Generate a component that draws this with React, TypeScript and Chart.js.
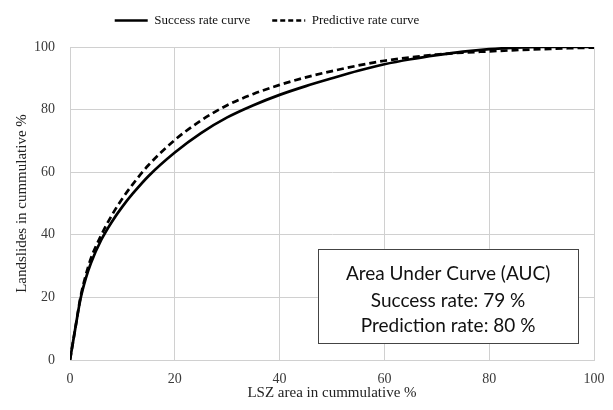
import { useEffect, useRef } from "react";
import { Chart, registerables } from "chart.js";

Chart.register(...registerables);

const lszArea = [0, 1, 2, 3, 4, 6, 8, 10, 12, 15, 20, 25, 30, 35, 40, 45, 50, 55, 60, 65, 70, 75, 80, 85, 90, 95, 100];
const successRate = [0, 10, 19.5, 26, 31, 38.5, 44.2, 49, 53.2, 58.8, 66.3, 72.5, 77.5, 81.4, 84.7, 87.5, 90, 92.4, 94.5, 96.1, 97.4, 98.5, 99.3, 99.8, 100, 100, 100];
const predictiveRate = [0, 10, 20, 27, 32.5, 40, 46.3, 51.6, 56.2, 62.3, 70.3, 76.5, 81.4, 85, 87.9, 90.3, 92.3, 94.1, 95.6, 96.7, 97.6, 98.2, 98.6, 99.0, 99.3, 99.6, 99.8];
const seriesNames = ["Success rate curve", "Predictive rate curve"];
const axisTitles = { x: "LSZ area in cummulative %", y: "Landslides in cummulative %" };
const aucLines = ["Area Under Curve (AUC)", "Success rate: 79 %", "Prediction rate: 80 %"];

const SERIF = "'Times New Roman', 'Liberation Serif', serif";
const GRID = "#d0d0d0";
const LINE_W = 2.7;

const legendShift = {
  id: "legendShift",
  beforeInit(chart: any) {
    const legend = chart.legend;
    if (!legend) return;
    const origFit = legend.fit.bind(legend);
    legend.fit = function () {
      origFit();
      this.height = 47;
    };
  },
  afterLayout(chart: any) {
    const legend = chart.legend;
    if (!legend) return;
    legend.top = -8;
    legend.left -= 30;
    legend.right -= 30;
  },
};

const aucBox = {
  id: "aucBox",
  afterDraw(chart: any) {
    const { ctx, scales } = chart;
    const x0 = scales.x.getPixelForValue(47.3);
    const x1 = scales.x.getPixelForValue(97);
    const y0 = scales.y.getPixelForValue(35.5);
    const y1 = scales.y.getPixelForValue(5.4);
    ctx.save();
    ctx.fillStyle = "#ffffff";
    ctx.fillRect(x0, y0, x1 - x0, y1 - y0);
    ctx.strokeStyle = "#444444";
    ctx.lineWidth = 1;
    ctx.strokeRect(Math.round(x0) + 0.5, Math.round(y0) + 0.5, Math.round(x1 - x0), Math.round(y1 - y0));
    ctx.fillStyle = "#111111";
    ctx.font = "19px Lato, 'Noto Sans', sans-serif";
    ctx.textAlign = "center";
    ctx.textBaseline = "middle";
    const cx = (x0 + x1) / 2;
    const offsets = [25, 52, 77];
    aucLines.forEach((t, i) => ctx.fillText(t, cx, y0 + offsets[i]));
    ctx.restore();
  },
};

export default function App() {
  const ref = useRef<HTMLCanvasElement>(null);
  useEffect(() => {
    if (!ref.current) return;
    const chart = new Chart(ref.current, {
      type: "line",
      data: {
        datasets: [
          {
            label: seriesNames[0],
            data: lszArea.map((x, i) => ({ x, y: successRate[i] })),
            borderColor: "#000000",
            backgroundColor: "#000000",
            borderWidth: LINE_W,
            pointRadius: 0,
            pointStyle: "line",
            cubicInterpolationMode: "monotone",
          },
          {
            label: seriesNames[1],
            data: lszArea.map((x, i) => ({ x, y: predictiveRate[i] })),
            borderColor: "#000000",
            backgroundColor: "#000000",
            borderWidth: LINE_W,
            borderDash: [7, 4],
            pointRadius: 0,
            pointStyle: "line",
            cubicInterpolationMode: "monotone",
          },
        ],
      },
      options: {
        responsive: false,
        animation: false,
        layout: { padding: { left: 0, right: 19, top: 0, bottom: 0 } },
        plugins: {
          legend: {
            display: true,
            position: "top",
            labels: {
              usePointStyle: true,
              pointStyle: "line",
              pointStyleWidth: 33,
              padding: 22,
              color: "#111111",
              font: { family: SERIF, size: 13 },
              generateLabels: (chart: any) =>
                Chart.defaults.plugins.legend.labels.generateLabels(chart).map((item: any) => {
                  const ds = chart.data.datasets[item.datasetIndex];
                  return {
                    ...item,
                    lineDash: ds.borderDash ? [5, 3] : [],
                    lineWidth: LINE_W,
                    strokeStyle: "#000000",
                    pointStyle: "line",
                  };
                }),
            },
          },
          tooltip: { enabled: false },
        },
        scales: {
          x: {
            type: "linear",
            min: 0,
            max: 100,
            afterFit: (s: any) => {
              s.height = 50;
              s.paddingLeft = 0;
              s.paddingRight = 0;
            },
            ticks: { stepSize: 20, color: "#3a3a3a", font: { family: SERIF, size: 14 }, padding: 11 },
            grid: { color: GRID, drawTicks: false },
            border: { color: GRID },
            title: {
              display: true,
              text: axisTitles.x,
              color: "#222222",
              font: { family: SERIF, size: 15 },
              padding: { top: 0, bottom: 8 },
            },
          },
          y: {
            min: 0,
            max: 100,
            afterFit: (s: any) => {
              s.width = 70;
            },
            ticks: { stepSize: 20, color: "#3a3a3a", font: { family: SERIF, size: 14 }, padding: 15 },
            grid: { color: GRID, drawTicks: false },
            border: { color: GRID },
            title: {
              display: true,
              text: axisTitles.y,
              color: "#222222",
              font: { family: SERIF, size: 15 },
              padding: { top: 13, bottom: 0 },
            },
          },
        },
      },
      plugins: [legendShift, aucBox],
    });
    return () => chart.destroy();
  }, []);
  return (
    <div style={{ position: "absolute", left: 0, top: 0, width: 613, height: 410, background: "#fff" }}>
      <canvas ref={ref} width={613} height={410} style={{ width: 613, height: 410, display: "block" }} />
    </div>
  );
}
